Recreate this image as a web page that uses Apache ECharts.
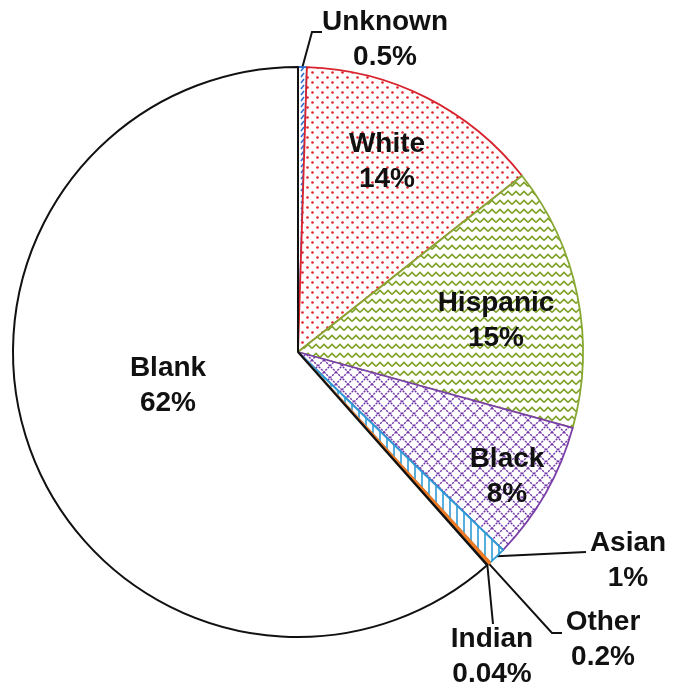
<!DOCTYPE html>
<html>
<head>
<meta charset="utf-8">
<script src="https://cdn.jsdelivr.net/npm/echarts@6/dist/echarts.min.js"></script>
<style>
  html, body { margin: 0; padding: 0; background: #fff; }
  #main { width: 673px; height: 693px; }
</style>
</head>
<body>
<div id="main"></div>
<script>
var myChart = echarts.init(document.getElementById('main'));

// slices, clockwise from 12 o'clock
const groups = ['Unknown', 'White', 'Hispanic', 'Black', 'Asian', 'Other', 'Indian', 'Blank'];
const shares = [0.5, 14, 15, 8, 1, 0.2, 0.04, 62];
const outsideLabels = ['Unknown', 'Asian', 'Other', 'Indian'];

// label centres and leader bends (layout only)
const labelAt = {
    Unknown: [385, 40], White: [387, 162], Hispanic: [496, 321], Black: [507, 477],
    Blank: [168, 386], Asian: [628, 561], Other: [603, 640], Indian: [492, 657]
};
const leaderBends = {
    Unknown: [[312, 32], [322, 32]],
    Asian: [[586, 552]],
    Other: [[552, 633], [562, 633]],
    Indian: [[493, 624]]
};

function pattern(w, h, draw) {
    const c = document.createElement('canvas');
    c.width = w; c.height = h;
    const ctx = c.getContext('2d');
    ctx.fillStyle = '#fff';
    ctx.fillRect(0, 0, w, h);
    draw(ctx);
    return { image: c, repeat: 'repeat' };
}

const fills = {
    Unknown: pattern(6, 6, function (ctx) {
        ctx.strokeStyle = '#2f6fd0'; ctx.lineWidth = 1.5;
        ctx.beginPath(); ctx.moveTo(1, 5); ctx.lineTo(4, 1); ctx.stroke();
    }),
    White: pattern(10, 10, function (ctx) {
        ctx.fillStyle = '#e0202c';
        ctx.beginPath(); ctx.arc(2.5, 2.5, 1.3, 0, Math.PI * 2); ctx.fill();
        ctx.beginPath(); ctx.arc(7.5, 7.5, 1.3, 0, Math.PI * 2); ctx.fill();
    }),
    Hispanic: pattern(8, 9, function (ctx) {
        ctx.strokeStyle = '#7fa228'; ctx.lineWidth = 1.6;
        ctx.beginPath(); ctx.moveTo(0, 6.5); ctx.lineTo(4, 2.5); ctx.lineTo(8, 6.5); ctx.stroke();
    }),
    Black: pattern(12, 12, function (ctx) {
        ctx.strokeStyle = '#7238a8'; ctx.lineWidth = 1.4;
        ctx.setLineDash([2.2, 1]);
        ctx.beginPath(); ctx.moveTo(0, 0); ctx.lineTo(12, 12); ctx.stroke();
        ctx.beginPath(); ctx.moveTo(12, 0); ctx.lineTo(0, 12); ctx.stroke();
    }),
    Asian: pattern(7, 7, function (ctx) {
        ctx.strokeStyle = '#2c9bd6'; ctx.lineWidth = 1.6;
        ctx.beginPath(); ctx.moveTo(2, 0); ctx.lineTo(2, 7); ctx.stroke();
    }),
    Other: '#f07a22',
    Indian: '#222222',
    Blank: '#ffffff'
};
const borders = {
    Unknown: '#2f6fd0', White: '#d8242e', Hispanic: '#86a830', Black: '#7a3fa8',
    Asian: '#2c9bd6', Other: '#f07a22', Indian: '#222222', Blank: '#111111'
};

const data = groups.map(function (g, i) {
    const outside = outsideLabels.indexOf(g) >= 0;
    return {
        name: g,
        value: shares[i],
        itemStyle: { color: fills[g], borderColor: borders[g], borderWidth: g === 'Blank' ? 2 : 1.8 },
        label: { position: outside ? 'outside' : 'inside' },
        labelLine: { show: outside }
    };
});

option = {
    animation: false,
    series: [
        {
            type: 'pie',
            center: [298, 352],
            radius: 285,
            startAngle: 90,
            clockwise: true,
            avoidLabelOverlap: false,
            data: data,
            label: {
                show: true,
                formatter: '{b}\n{c}%',
                fontFamily: 'Liberation Sans, Arial, sans-serif',
                fontWeight: 'bold',
                fontSize: 28,
                lineHeight: 35,
                color: '#111',
                align: 'center'
            },
            labelLine: {
                lineStyle: { color: '#111', width: 2 }
            },
            labelLayout: function (params) {
                const g = groups[params.dataIndex];
                const pos = labelAt[g];
                const res = { x: pos[0], y: pos[1], align: 'center', verticalAlign: 'middle' };
                if (leaderBends[g] && params.labelLinePoints) {
                    res.labelLinePoints = [params.labelLinePoints[0]].concat(leaderBends[g]);
                }
                return res;
            }
        }
    ]
};

myChart.setOption(option);
</script>
</body>
</html>
